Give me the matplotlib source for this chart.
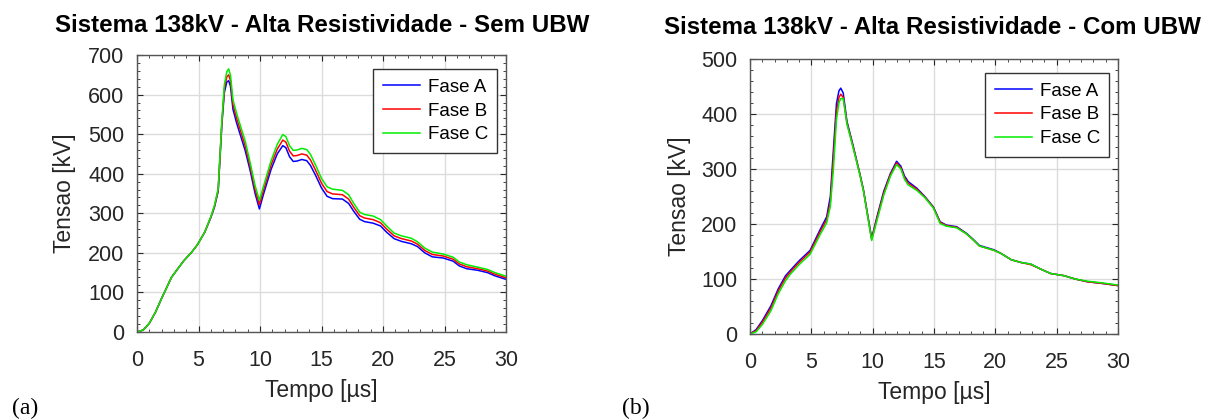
"""
Sobretensoes no sistema 138kV (alta resistividade), com e sem UBW.
"""

import matplotlib
matplotlib.use('Agg')
import matplotlib.pyplot as plt
from matplotlib.ticker import MultipleLocator, AutoMinorLocator

plt.rcParams['font.family'] = 'Liberation Sans'

# --- Dados: sem UBW ---
t_sem = [0, 0.5, 1.0, 1.5, 2.0, 2.5, 2.8, 3.2, 3.8, 4.4,
         4.9, 5.5, 6.0, 6.3, 6.6, 6.9, 7.1, 7.3, 7.45, 7.6,
         7.8, 8.1, 8.45, 8.8, 9.2, 9.6, 9.95, 10.3, 10.9, 11.4,
         11.85, 12.1, 12.4, 12.7, 13.0, 13.4, 13.8, 14.1, 14.5, 15.0,
         15.45, 15.9, 16.7, 17.2, 17.6, 18.1, 18.5, 19.2, 19.8, 20.3,
         20.9, 21.5, 22.3, 22.8, 23.4, 24.0, 24.9, 25.7, 26.2, 26.8,
         27.7, 28.5, 29.1, 30.0]
fase_a_sem = [0, 5, 22, 50, 85, 118, 138, 155, 180, 200,
              220, 252, 289, 316, 356, 525, 605, 632, 635, 621,
              563, 528, 493, 458, 408, 350, 311, 350, 411, 450,
              471, 466, 443, 431, 432, 436, 433, 421, 397, 364,
              343, 337, 336, 325, 306, 285, 279, 275, 268, 252,
              236, 229, 223, 216, 200, 190, 187, 179, 167, 160,
              156, 150, 142, 133]
fase_b_sem = [0, 5, 22, 50, 85, 118, 138, 155, 180, 200,
              220, 252, 290, 318, 359, 530, 615, 645, 650, 635,
              575, 540, 505, 470, 418, 360, 322, 360, 422, 462,
              485, 480, 457, 445, 446, 450, 447, 435, 410, 376,
              355, 349, 347, 336, 316, 294, 288, 284, 276, 260,
              243, 236, 230, 222, 206, 196, 192, 184, 172, 165,
              160, 154, 146, 137]
fase_c_sem = [0, 5, 22, 50, 85, 118, 138, 155, 180, 200,
              220, 252, 291, 320, 362, 535, 625, 658, 665, 649,
              587, 552, 517, 482, 428, 370, 333, 370, 433, 474,
              499, 494, 471, 459, 460, 464, 461, 449, 423, 388,
              367, 361, 358, 347, 326, 303, 297, 293, 284, 268,
              250, 243, 237, 228, 212, 202, 197, 189, 177, 170,
              164, 158, 150, 141]

# --- Dados: com UBW ---
t_com = [0, 0.5, 1.0, 1.7, 2.3, 2.9, 3.3, 4.0, 4.9, 5.7,
         6.25, 6.55, 6.8, 7.05, 7.25, 7.4, 7.6, 7.9, 8.4, 8.95,
         9.25, 9.55, 9.92, 10.35, 10.9, 11.45, 11.95, 12.3, 12.6, 12.9,
         13.6, 14.25, 14.95, 15.5, 16.0, 16.85, 17.65, 18.2, 18.7, 19.3,
         19.9, 20.5, 21.3, 22.1, 22.9, 23.7, 24.5, 25.6, 26.5, 27.5,
         28.7, 30.0]
fase_a_com = [0, 8, 24, 51, 82, 106, 116, 133, 152, 189,
              213, 250, 335, 419, 442, 447, 438, 387, 343, 292,
              262, 222, 174, 213, 259, 292, 314, 305, 287, 277,
              265, 250, 231, 204, 198, 195, 183, 172, 161, 157,
              153, 146, 135, 130, 127, 118, 110, 106, 100, 95,
              92, 88]
fase_b_com = [0, 6, 21, 47, 78, 102, 113, 130, 149, 185,
              208, 240, 320, 405, 430, 436, 430, 384, 341, 291,
              261, 221, 172, 210, 256, 290, 311, 302, 284, 274,
              263, 249, 230, 203, 197, 194, 182, 171, 160, 156,
              152, 146, 135, 130, 126, 118, 110, 106, 100, 95,
              92, 88]
fase_c_com = [0, 4, 17, 42, 73, 97, 109, 126, 145, 180,
              202, 232, 300, 390, 420, 428, 428, 382, 339, 290,
              260, 220, 170, 206, 252, 287, 308, 300, 281, 271,
              261, 248, 229, 201, 196, 193, 182, 171, 160, 156,
              152, 146, 135, 130, 127, 118, 110, 106, 100, 96,
              93, 89]

fases = ['Fase A', 'Fase B', 'Fase C']
cores = ['#0000ff', '#ff0000', '#00ee00']
TXT = '#262626'


def estilo_eixo(ax, ymax, ylab_x):
    """Visual tipo MATLAB: caixa, grade clara, ticks para dentro."""
    ax.set_xlim(0, 30)
    ax.set_ylim(0, ymax)
    ax.xaxis.set_major_locator(MultipleLocator(5))
    ax.yaxis.set_major_locator(MultipleLocator(100))
    ax.xaxis.set_minor_locator(AutoMinorLocator())
    ax.yaxis.set_minor_locator(AutoMinorLocator())
    ax.grid(True, which='major', color='#dcdcdc', linewidth=1.0)
    ax.set_axisbelow(True)
    ax.tick_params(which='both', direction='in', top=True, right=True,
                   colors=TXT, labelsize=15.5)
    ax.tick_params(which='major', length=4, pad=9)
    ax.tick_params(which='minor', length=2)
    ax.tick_params(axis='x', which='major', pad=13)
    for s in ax.spines.values():
        s.set_color('#555555')
        s.set_linewidth(1.0)
    ax.set_xlabel('Tempo [µs]', fontsize=16.5, color=TXT)
    ax.set_ylabel('Tensao [kV]', fontsize=16.5, color=TXT)
    ax.xaxis.set_label_coords(0.5, -0.17)
    ax.yaxis.set_label_coords(ylab_x, 0.5)


def desenha(ax, t, series, ymax, ylab_x):
    for y, nome, cor in zip(series, fases, cores):
        ax.plot(t, y, color=cor, linewidth=1.1, label=nome)
    estilo_eixo(ax, ymax, ylab_x)
    leg = ax.legend(loc='upper left', bbox_to_anchor=(0.64, 0.948),
                    borderaxespad=0, fontsize=13.5, handlelength=2.0,
                    handletextpad=0.4, labelspacing=0.35, borderpad=0.5,
                    fancybox=False, framealpha=1)
    leg.get_frame().set_edgecolor('#333333')
    leg.get_frame().set_linewidth(1.0)


fig = plt.figure(figsize=(12.06, 4.2), dpi=100)
ax1 = fig.add_axes([0.1136, 0.2095, 0.306, 0.6595])
ax2 = fig.add_axes([0.6219, 0.2048, 0.3051, 0.6548])

desenha(ax1, t_sem, [fase_a_sem, fase_b_sem, fase_c_sem], 700, -0.165)
desenha(ax2, t_com, [fase_a_com, fase_b_com, fase_c_com], 500, -0.16)

fig.text(0.267, 1 - 25 / 420, 'Sistema 138kV - Alta Resistividade - Sem UBW',
         ha='center', va='center', fontsize=17.4, fontweight='bold')
fig.text(0.773, 1 - 27 / 420, 'Sistema 138kV - Alta Resistividade - Com UBW',
         ha='center', va='center', fontsize=17.4, fontweight='bold')

# rotulos (a) e (b)
fig.text(12 / 1206, 1 - 408 / 420, '(a)', ha='left', va='center',
         fontsize=17, family='Liberation Serif')
fig.text(622 / 1206, 1 - 408 / 420, '(b)', ha='left', va='center',
         fontsize=17, family='Liberation Serif')

fig.savefig('out.png', dpi=100)
